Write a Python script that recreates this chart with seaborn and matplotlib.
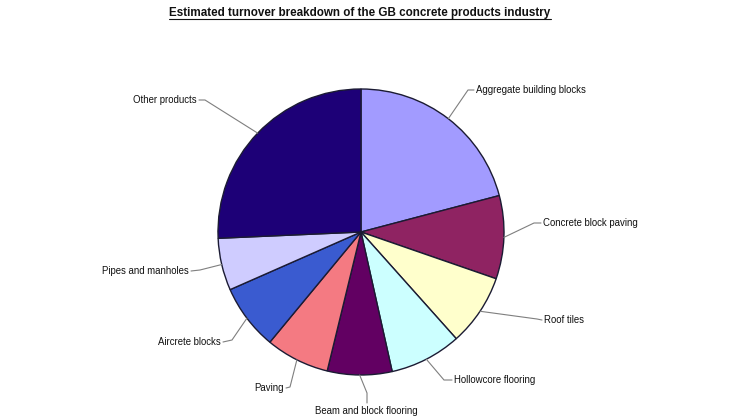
import numpy as np
import pandas as pd
import matplotlib
matplotlib.use("Agg")
import matplotlib.pyplot as plt
import seaborn as sns

# ---- data ----
categories = ["Aggregate building blocks", "Concrete block paving", "Roof tiles",
              "Hollowcore flooring", "Beam and block flooring", "Paving",
              "Aircrete blocks", "Pipes and manholes", "Other products"]
shares = [20.9, 9.4, 8.1, 8.1, 7.3, 7.2, 7.4, 5.9, 25.7]
colors = ["#A29BFF", "#8F2362", "#FFFFCC", "#CCFFFF", "#620062", "#F47A82",
          "#3A5BD0", "#CFCCFF", "#1D0077"]
title = "Estimated turnover breakdown of the GB concrete products industry"

# ---- layout (image pixel coords, y down): elbow point, text point, alignment ----
label_layout = [
    ((468, 90), (476, 90), "left"),
    ((534, 223), (543, 223), "left"),
    ((537, 319), (544, 320), "left"),
    ((444, 380), (454, 380), "left"),
    ((367, 393), (366, 411), "center"),
    ((290, 387), (284, 388), "right"),
    ((232, 340), (221, 342), "right"),
    ((200, 270), (189, 271), "right"),
    ((205, 100), (197, 100), "right"),
]

sns.set_theme(style="white")
plt.rcParams["font.family"] = ["Liberation Sans", "DejaVu Sans"]

W, H = 730, 417
fig = plt.figure(figsize=(W / 100, H / 100), dpi=100)
ax = fig.add_axes([0, 0, 1, 1])

cx, cy, R = 361, H - 232, 143
df = pd.DataFrame({"category": categories, "share": shares, "color": colors})
wedges, _ = ax.pie(df["share"], colors=df["color"], startangle=90, counterclock=False,
                   center=(cx, cy), radius=R,
                   wedgeprops=dict(edgecolor="#1b1b33", linewidth=1.0), frame=True)
ax.set_xlim(0, W)
ax.set_ylim(0, H)
ax.axis("off")

for w, cat, (elbow, tpos, ha) in zip(wedges, df["category"], label_layout):
    ang = np.deg2rad((w.theta1 + w.theta2) / 2)
    ex, ey = cx + R * np.cos(ang), cy + R * np.sin(ang)
    bx, by = elbow[0], H - elbow[1]
    tx, ty = tpos[0], H - tpos[1]
    if ha == "left":
        endx, endy = tx - 2, ty
    elif ha == "right":
        endx, endy = tx + 2, ty
    else:
        endx, endy = bx, ty + 8
    ax.plot([ex, bx, endx], [ey, by, endy], color="#7f7f7f", linewidth=0.8,
            solid_joinstyle="miter")
    ax.text(tx, ty, cat, ha=ha, va="center", fontsize=6.9, color="#111111")

t = ax.text(360, H - 13, title, ha="center", va="center", fontsize=8.4,
            fontweight="bold", color="#111111")
fig.canvas.draw()
bb = t.get_window_extent(renderer=fig.canvas.get_renderer())
ax.plot([bb.x0, bb.x1], [bb.y0 + 0.5, bb.y0 + 0.5], color="#111111", linewidth=0.8)

fig.savefig("out.png", dpi=100)
